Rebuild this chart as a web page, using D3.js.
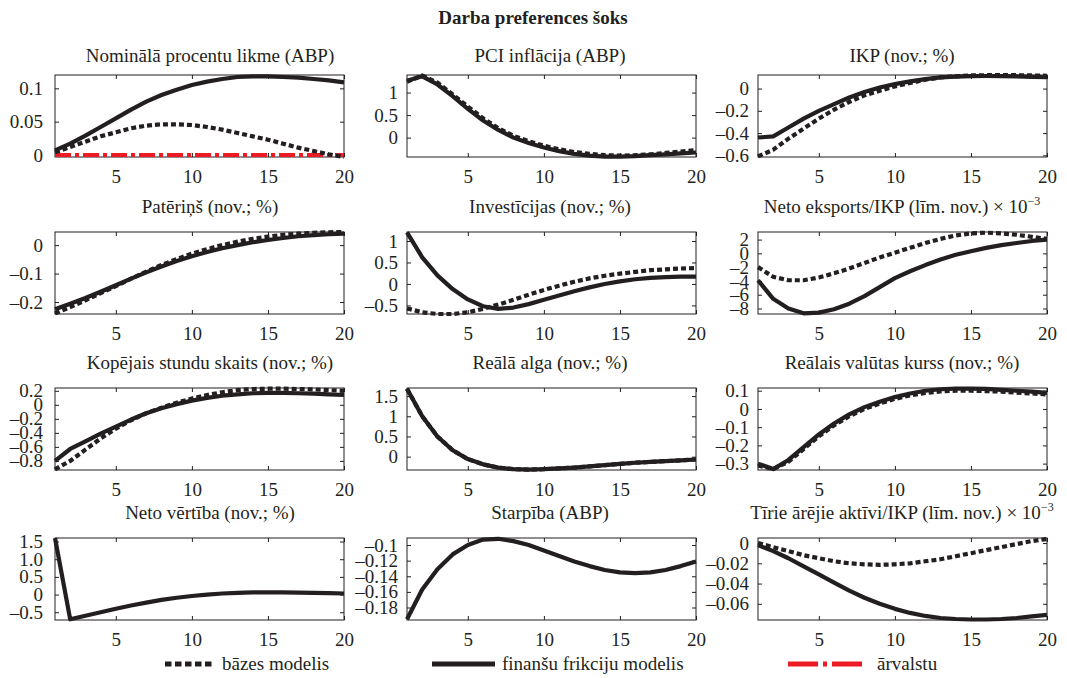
<!DOCTYPE html>
<html><head><meta charset="utf-8">
<script src="https://cdn.jsdelivr.net/npm/d3@7"></script>
<style>
body{margin:0;background:#fff}
svg{display:block}
text{font-family:"Liberation Serif","Times New Roman",serif;fill:#231f20}
</style>
</head><body>
<svg id="c" width="1067" height="678"></svg>
<script>
// ---------------- DATA ----------------
const chartTitle = "Darba preferences šoks";
const periods = [1,2,3,4,5,6,7,8,9,10,11,12,13,14,15,16,17,18,19,20];
const xTicks = [5,10,15,20];

const panelTitles = [
  "Nominālā procentu likme (ABP)", "PCI inflācija (ABP)", "IKP (nov.; %)",
  "Patēriņš (nov.; %)", "Investīcijas (nov.; %)", "Neto eksports/IKP (līm. nov.) × 10",
  "Kopējais stundu skaits (nov.; %)", "Reālā alga (nov.; %)", "Reālais valūtas kurss (nov.; %)",
  "Neto vērtība (nov.; %)", "Starpība (ABP)", "Tīrie ārējie aktīvi/IKP (līm. nov.) × 10"
];
const titleExponents = ["", "", "", "", "", "−3", "", "", "", "", "", "−3"];

// bāzes modelis (dotted)
const baseNominal = [0.004,0.012,0.020,0.028,0.034,0.040,0.044,0.046,0.046,0.045,0.042,0.038,0.033,0.028,0.023,0.017,0.011,0.006,0.001,-0.003];
const baseInflation = [1.24,1.38,1.22,0.96,0.69,0.43,0.21,0.04,-0.08,-0.18,-0.26,-0.32,-0.36,-0.39,-0.40,-0.39,-0.37,-0.34,-0.31,-0.28];
const baseGDP = [-0.61,-0.55,-0.45,-0.36,-0.27,-0.19,-0.12,-0.06,-0.02,0.02,0.05,0.08,0.10,0.11,0.118,0.12,0.12,0.12,0.118,0.115];
const baseConsumption = [-0.24,-0.218,-0.194,-0.169,-0.144,-0.118,-0.093,-0.07,-0.049,-0.03,-0.014,0.0,0.012,0.022,0.03,0.036,0.04,0.043,0.045,0.046];
const baseInvestment = [-0.57,-0.66,-0.70,-0.70,-0.66,-0.58,-0.48,-0.37,-0.25,-0.14,-0.04,0.05,0.13,0.19,0.24,0.28,0.32,0.34,0.36,0.37];
const baseNetExports = [-2.0,-3.4,-3.9,-3.9,-3.5,-2.9,-2.2,-1.4,-0.6,0.1,0.8,1.5,2.1,2.6,2.9,3.0,2.9,2.7,2.4,2.1];
const baseHours = [-0.92,-0.80,-0.64,-0.48,-0.34,-0.22,-0.12,-0.04,0.03,0.09,0.14,0.18,0.21,0.225,0.23,0.23,0.225,0.22,0.21,0.2];
const baseWage = [1.68,1.0,0.5,0.16,-0.06,-0.19,-0.27,-0.31,-0.32,-0.31,-0.29,-0.27,-0.24,-0.21,-0.18,-0.15,-0.13,-0.11,-0.09,-0.07];
const baseRER = [-0.31,-0.33,-0.29,-0.22,-0.15,-0.09,-0.04,0.0,0.03,0.055,0.075,0.088,0.096,0.1,0.1,0.098,0.095,0.09,0.085,0.08];
const baseNetWorth = null;
const baseSpread = null;
const baseNFA = [0.0,-0.004,-0.008,-0.012,-0.015,-0.018,-0.02,-0.021,-0.0215,-0.021,-0.02,-0.018,-0.016,-0.013,-0.01,-0.007,-0.004,-0.001,0.002,0.004];

// finanšu frikciju modelis (solid)
const finNominal = [0.007,0.017,0.029,0.042,0.055,0.068,0.080,0.090,0.098,0.105,0.110,0.114,0.117,0.118,0.118,0.117,0.116,0.114,0.112,0.109];
const finInflation = [1.26,1.36,1.18,0.92,0.64,0.38,0.17,0.00,-0.12,-0.22,-0.30,-0.36,-0.40,-0.42,-0.42,-0.41,-0.39,-0.37,-0.35,-0.33];
const finGDP = [-0.44,-0.43,-0.35,-0.27,-0.20,-0.14,-0.08,-0.03,0.01,0.04,0.065,0.085,0.10,0.108,0.112,0.113,0.112,0.11,0.106,0.102];
const finConsumption = [-0.225,-0.206,-0.186,-0.164,-0.141,-0.118,-0.096,-0.075,-0.056,-0.039,-0.024,-0.011,0.0,0.01,0.018,0.025,0.031,0.035,0.038,0.04];
const finInvestment = [1.2,0.62,0.2,-0.12,-0.36,-0.52,-0.58,-0.55,-0.47,-0.37,-0.27,-0.17,-0.08,0.0,0.06,0.11,0.14,0.16,0.17,0.17];
const finNetExports = [-3.9,-6.6,-8.0,-8.7,-8.6,-8.1,-7.3,-6.2,-4.9,-3.6,-2.6,-1.7,-0.9,-0.2,0.3,0.8,1.2,1.5,1.8,2.0];
const finHours = [-0.80,-0.63,-0.52,-0.41,-0.31,-0.21,-0.12,-0.05,0.01,0.06,0.10,0.13,0.15,0.165,0.17,0.17,0.165,0.16,0.15,0.14];
const finWage = [1.68,1.0,0.5,0.16,-0.06,-0.19,-0.27,-0.31,-0.32,-0.31,-0.29,-0.27,-0.24,-0.21,-0.18,-0.15,-0.13,-0.11,-0.09,-0.07];
const finRER = [-0.30,-0.33,-0.28,-0.21,-0.14,-0.08,-0.03,0.01,0.04,0.065,0.085,0.10,0.108,0.112,0.112,0.11,0.105,0.1,0.095,0.088];
const finNetWorth = [1.6,-0.7,-0.6,-0.5,-0.4,-0.31,-0.23,-0.15,-0.09,-0.04,0.0,0.03,0.05,0.06,0.06,0.06,0.055,0.05,0.04,0.03];
const finSpread = [-0.195,-0.157,-0.131,-0.112,-0.100,-0.093,-0.092,-0.095,-0.100,-0.107,-0.114,-0.121,-0.127,-0.132,-0.135,-0.136,-0.135,-0.132,-0.127,-0.121];
const finNFA = [-0.002,-0.008,-0.015,-0.023,-0.031,-0.039,-0.047,-0.054,-0.06,-0.065,-0.069,-0.072,-0.074,-0.075,-0.0755,-0.0755,-0.075,-0.074,-0.0725,-0.071];

// ārvalstu (dash-dot), only shown in the first panel
const foreignNominal = [0,0,0,0,0,0,0,0,0,0,0,0,0,0,0,0,0,0,0,0];

const baseSeries = [baseNominal, baseInflation, baseGDP, baseConsumption, baseInvestment, baseNetExports, baseHours, baseWage, baseRER, baseNetWorth, baseSpread, baseNFA];
const finSeries = [finNominal, finInflation, finGDP, finConsumption, finInvestment, finNetExports, finHours, finWage, finRER, finNetWorth, finSpread, finNFA];
const foreignSeries = [foreignNominal, null, null, null, null, null, null, null, null, null, null, null];

const yDomains = [[-0.003,0.12],[-0.43,1.39],[-0.615,0.122],[-0.242,0.046],[-0.7,1.21],[-8.8,3.1],
                  [-0.93,0.24],[-0.33,1.7],[-0.335,0.115],[-0.72,1.6],[-0.196,-0.091],[-0.076,0.005]];
const yTicks = [[0,0.05,0.1],[0,0.5,1],[-0.6,-0.4,-0.2,0],[-0.2,-0.1,0],[-0.5,0,0.5,1],[-8,-6,-4,-2,0,2],
                [-0.8,-0.6,-0.4,-0.2,0,0.2],[0,0.5,1,1.5],[-0.3,-0.2,-0.1,0,0.1],[-0.5,0,0.5,1,1.5],
                [-0.18,-0.16,-0.14,-0.12,-0.1],[-0.06,-0.04,-0.02,0]];
const yTickLabels = [["0","0.05","0.1"],["0","0.5","1"],["–0.6","–0.4","–0.2","0"],["–0.2","–0.1","0"],
                     ["–0.5","0","0.5","1"],["–8","–6","–4","–2","0","2"],
                     ["–0.8","–0.6","–0.4","–0.2","0","0.2"],["0","0.5","1","1.5"],
                     ["–0.3","–0.2","–0.1","0","0.1"],["–0.5","0","0.5","1.0","1.5"],
                     ["–0.18","–0.16","–0.14","–0.12","–0.1"],["–0.06","–0.04","–0.02","0"]];
const legendLabels = ["bāzes modelis","finanšu frikciju modelis","ārvalstu"];

// ---------------- LAYOUT ----------------
const colLeft = [55, 407, 758];
const plotW = 289;
const rowTop = [75, 232, 388, 538];
const plotH = 82;
const titleCenter = [210, 550, 902];
const titleGap = [13, 19, 19, 19];
const yPad = [12, 9, 9];
const ink = "#231f20";
const red = "#ed1c24";
const fs = 19;

const svg = d3.select("#c");

svg.append("text").attr("x", 533).attr("y", 24).attr("text-anchor","middle")
  .attr("font-weight","bold").attr("font-size", 19).text(chartTitle);

panelTitles.forEach((title, i) => {
  const r = Math.floor(i/3), c = i%3;
  const x0 = colLeft[c], y0 = rowTop[r];
  const g = svg.append("g").attr("transform", `translate(${x0},${y0})`);
  const x = d3.scaleLinear().domain([1,20]).range([0, plotW]);
  const y = d3.scaleLinear().domain(yDomains[i]).range([plotH, 0]);

  // box
  g.append("rect").attr("width", plotW).attr("height", plotH)
    .attr("fill","none").attr("stroke", ink).attr("stroke-width",1);

  // axes
  const yAx = d3.axisLeft(y).tickValues(yTicks[i]).tickSize(-4).tickPadding(yPad[c])
    .tickFormat((d,k) => yTickLabels[i][k]);
  const ga = g.append("g").call(yAx);
  const yAxR = d3.axisRight(y).tickValues(yTicks[i]).tickSize(-4).tickFormat("");
  const gr = g.append("g").attr("transform",`translate(${plotW},0)`).call(yAxR);
  const xAx = d3.axisBottom(x).tickValues(xTicks).tickSize(-4).tickPadding(13);
  const gx = g.append("g").attr("transform",`translate(0,${plotH})`).call(xAx);
  const xAxT = d3.axisTop(x).tickValues(xTicks).tickSize(-4).tickFormat("");
  const gt = g.append("g").call(xAxT);
  [ga, gr, gx, gt].forEach(a => {
    a.select(".domain").remove();
    a.selectAll("line").attr("stroke", ink);
    a.selectAll("text").attr("font-size", fs).attr("font-family",'"Liberation Serif",serif').attr("fill", ink);
  });
  gx.selectAll("text").attr("dy","0.71em");

  const line = d3.line().x((d,k) => x(periods[k])).y(d => y(d));
  if (foreignSeries[i]) {
    g.append("path").datum(foreignSeries[i]).attr("d", line).attr("fill","none")
      .attr("stroke", red).attr("stroke-width", 4).attr("stroke-dasharray","16,4,4,4");
  }
  if (finSeries[i]) {
    g.append("path").datum(finSeries[i]).attr("d", line).attr("fill","none")
      .attr("stroke", ink).attr("stroke-width", 4.2).attr("stroke-linejoin","round");
  }
  if (baseSeries[i]) {
    g.append("path").datum(baseSeries[i]).attr("d", line).attr("fill","none")
      .attr("stroke", ink).attr("stroke-width", 4.2).attr("stroke-dasharray","5,3");
  }

  // title
  const t = svg.append("text").attr("x", titleCenter[c]).attr("y", y0 - titleGap[r])
    .attr("text-anchor","middle").attr("font-size", fs).text(title);
  if (titleExponents[i]) {
    t.append("tspan").attr("font-size", 12).attr("dy", -8).text(titleExponents[i]);
  }
});

// legend
const ly = 664;
const lg = svg.append("g");
lg.append("line").attr("x1",165).attr("x2",213).attr("y1",ly).attr("y2",ly)
  .attr("stroke",ink).attr("stroke-width",5).attr("stroke-dasharray","6.5,3.5");
lg.append("text").attr("x",222).attr("y",ly+6).attr("font-size",fs).text(legendLabels[0]);
lg.append("line").attr("x1",432).attr("x2",495).attr("y1",ly).attr("y2",ly)
  .attr("stroke",ink).attr("stroke-width",5);
lg.append("text").attr("x",502).attr("y",ly+6).attr("font-size",fs).text(legendLabels[1]);
lg.append("line").attr("x1",788).attr("x2",866).attr("y1",ly).attr("y2",ly)
  .attr("stroke",red).attr("stroke-width",5).attr("stroke-dasharray","30,5,4,5");
lg.append("text").attr("x",877).attr("y",ly+6).attr("font-size",fs).text(legendLabels[2]);
</script>
</body></html>
